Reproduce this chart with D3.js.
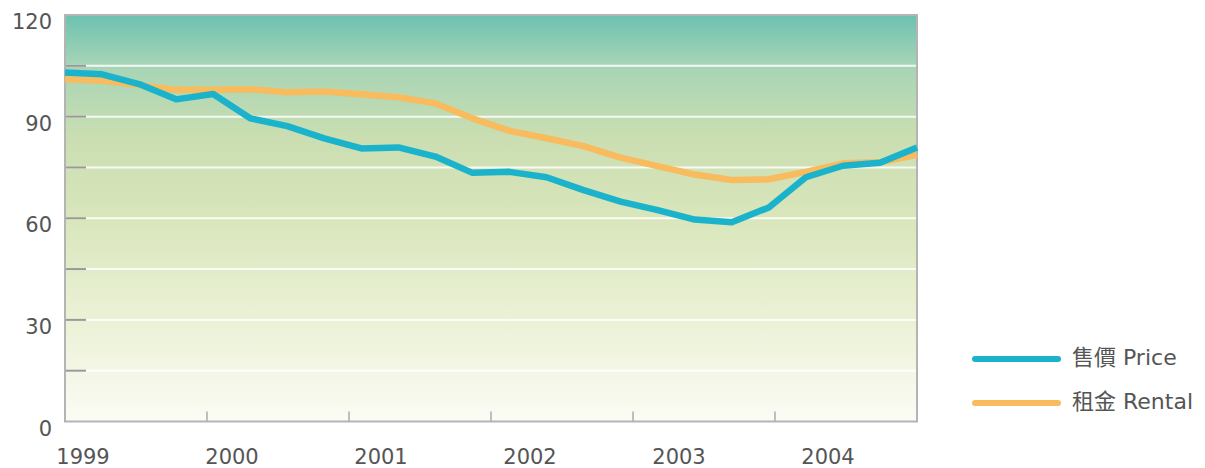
<!DOCTYPE html>
<html>
<head>
<meta charset="utf-8">
<script src="https://cdn.jsdelivr.net/npm/d3@7"></script>
<style>
  body { margin: 0; background: #fff; }
  text { font-family: "DejaVu Sans", "Noto Sans CJK TC", sans-serif; fill: #555; }
</style>
</head>
<body>
<div id="chart"></div>
<script>
var width = 1205
var height = 468

// index values, 1999 -> 2004
var price = [103, 102.5, 99.6, 95.1, 96.7, 89.5, 87.2, 83.6, 80.6, 80.9, 78.2, 73.4,
             73.7, 72.1, 68.3, 64.9, 62.4, 59.6, 58.8, 63.2, 72.1, 75.5, 76.4, 80.9]
var rental = [101, 100.6, 99.3, 97.9, 97.9, 98.1, 97.2, 97.4, 96.6, 95.7, 93.9, 89.5,
              85.8, 83.6, 81.3, 77.9, 75.4, 72.9, 71.3, 71.5, 73.7, 76.2, 76.5, 78.7]
var years = [1999, 2000, 2001, 2002, 2003, 2004]
var yTicks = [0, 30, 60, 90, 120]
var gridTicks = [15, 30, 45, 60, 75, 90, 105]
var legendLabels = ["售價 Price", "租金 Rental"]
var colors = ["#1bb3cb", "#f8bb5e"]

// note: "top" is taken by window.top, so plot edges get their own names
var plotLeft = 65, plotRight = 917, plotTop = 15, plotBottom = 421.5

var x = d3.scaleLinear().domain([0, price.length - 1]).range([plotLeft, plotRight])
var xYear = d3.scaleLinear().domain([1999, 2005]).range([plotLeft, plotRight])
var xLabel = d3.scaleLinear().domain([1999, 2004]).range([83, 828])
var y = d3.scaleLinear().domain([0, 120]).range([plotBottom, plotTop])

var svg = d3.select("#chart").append("svg")
  .attr("width", width)
  .attr("height", height)

var defs = svg.append("defs")
var grad = defs.append("linearGradient")
  .attr("id", "bg")
  .attr("x1", 0).attr("y1", 0).attr("x2", 0).attr("y2", 1)
var stops = [[0, "#6cc1b1"], [0.12, "#a6d4b6"], [0.3, "#cadeb1"], [0.5, "#d9e6bb"],
             [0.75, "#ebf1d6"], [1, "#fbfcf5"]]
grad.selectAll("stop").data(stops).enter().append("stop")
  .attr("offset", function(d) { return d[0]; })
  .attr("stop-color", function(d) { return d[1]; })

svg.append("rect")
  .attr("x", plotLeft).attr("y", plotTop)
  .attr("width", plotRight - plotLeft).attr("height", plotBottom - plotTop)
  .attr("fill", "url(#bg)")

// white grid lines
svg.append("g").selectAll("line")
  .data(gridTicks)
  .enter().append("line")
  .attr("x1", plotLeft).attr("x2", plotRight)
  .attr("y1", function(d) { return y(d); })
  .attr("y2", function(d) { return y(d); })
  .attr("stroke", "#fff")
  .attr("stroke-opacity", 0.85)
  .attr("stroke-width", 2)

// short grey ticks on the left
svg.append("g").selectAll("line")
  .data(gridTicks)
  .enter().append("line")
  .attr("x1", plotLeft).attr("x2", plotLeft + 21)
  .attr("y1", function(d) { return y(d); })
  .attr("y2", function(d) { return y(d); })
  .attr("stroke", "#999")
  .attr("stroke-width", 2)

// year ticks on the bottom
svg.append("g").selectAll("line")
  .data(years.slice(1))
  .enter().append("line")
  .attr("x1", function(d) { return xYear(d); })
  .attr("x2", function(d) { return xYear(d); })
  .attr("y1", plotBottom).attr("y2", plotBottom - 10)
  .attr("stroke", "#aaa")
  .attr("stroke-width", 1.5)

// frame
svg.append("rect")
  .attr("x", plotLeft).attr("y", plotTop)
  .attr("width", plotRight - plotLeft).attr("height", plotBottom - plotTop)
  .attr("fill", "none")
  .attr("stroke", "#b4b4b4")
  .attr("stroke-width", 2)

var line = d3.line()
  .x(function(d, i) { return x(i); })
  .y(function(d) { return y(d); })

svg.append("path")
  .datum(rental)
  .attr("d", line)
  .attr("fill", "none")
  .attr("stroke", colors[1])
  .attr("stroke-width", 6.5)
  .attr("stroke-linejoin", "round")

svg.append("path")
  .datum(price)
  .attr("d", line)
  .attr("fill", "none")
  .attr("stroke", colors[0])
  .attr("stroke-width", 6.5)
  .attr("stroke-linejoin", "round")

svg.append("g").selectAll("text")
  .data(yTicks)
  .enter().append("text")
  .attr("x", 52)
  .attr("y", function(d) { return y(d) + 8; })
  .attr("text-anchor", "end")
  .attr("dominant-baseline", "middle")
  .attr("font-size", 21)
  .text(function(d) { return d; })

svg.append("g").selectAll("text")
  .data(years)
  .enter().append("text")
  .attr("x", function(d) { return xLabel(d); })
  .attr("y", 458)
  .attr("text-anchor", "middle")
  .attr("dominant-baseline", "middle")
  .attr("font-size", 21)
  .text(function(d) { return d; })

var legend = svg.append("g").selectAll("g")
  .data(legendLabels)
  .enter().append("g")
  .attr("transform", function(d, i) { return "translate(975," + (359 + i * 44) + ")"; })

legend.append("line")
  .attr("x1", 0).attr("x2", 83)
  .attr("stroke", function(d, i) { return colors[i]; })
  .attr("stroke-width", 6)
  .attr("stroke-linecap", "round")

legend.append("text")
  .attr("x", 97)
  .attr("dominant-baseline", "middle")
  .attr("font-size", 22)
  .text(function(d) { return d; })
</script>
</body>
</html>
